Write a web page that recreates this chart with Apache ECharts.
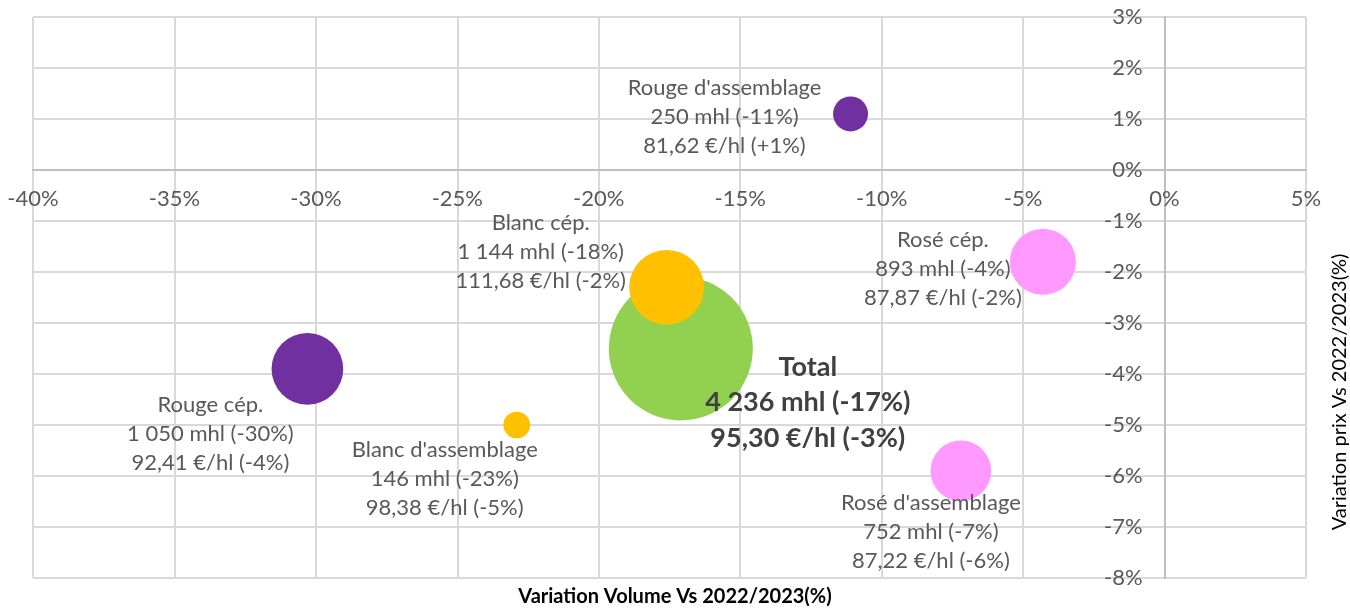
<!DOCTYPE html>
<html>
<head>
    <meta charset="utf-8">
    <title>Variation volume / prix</title>
    <script type="text/javascript" src="https://cdn.jsdelivr.net/npm/echarts@6/dist/echarts.min.js"></script>
    <style>
    html, body { margin: 0; padding: 0; background: #fff; }
    </style>
</head>
<body>
    <div id="main" style="width:1350px;height:608px"></div>
    <script>
    // données
    var names = ['Total', "Rouge d'assemblage", 'Rosé cép.', 'Blanc cép.', 'Rouge cép.', "Blanc d'assemblage", "Rosé d'assemblage"];
    var volVar = [-17.1, -11.1, -4.3, -17.6, -30.3, -22.9, -7.2];   // variation volume (%)
    var prixVar = [-3.5, 1.1, -1.8, -2.3, -3.9, -5.0, -5.9];       // variation prix (%)
    var volumes = [4236, 250, 893, 1144, 1050, 146, 752];          // mhl
    var volLabels = ['4 236 mhl (-17%)', '250 mhl (-11%)', '893 mhl (-4%)', '1 144 mhl (-18%)', '1 050 mhl (-30%)', '146 mhl (-23%)', '752 mhl (-7%)'];
    var prixLabels = ['95,30 €/hl (-3%)', '81,62 €/hl (+1%)', '87,87 €/hl (-2%)', '111,68 €/hl (-2%)', '92,41 €/hl (-4%)', '98,38 €/hl (-5%)', '87,22 €/hl (-6%)'];
    var colors = ['#92D050', '#7030A0', '#FF99FF', '#FFC000', '#7030A0', '#FFC000', '#FF99FF'];
    // décalage des étiquettes par rapport aux bulles
    var labelOffsets = [[127, 54], [-126, 3], [-100, 7], [-126, -35], [-97, 65], [-72, 54], [-30, 61]];

    var font = 'Lato, "Open Sans", sans-serif';
    var maxVol = Math.max.apply(null, volumes);

    var points = names.map(function (n, i) {
        var isTotal = i === 0;
        return {
            name: n,
            value: [volVar[i], prixVar[i], volumes[i]],
            itemStyle: { color: colors[i], opacity: 1 },
            label: {
                show: true,
                position: 'inside',
                offset: labelOffsets[i],
                align: 'center',
                verticalAlign: 'middle',
                fontFamily: font,
                fontSize: isTotal ? 27 : 22,
                fontWeight: isTotal ? 'bold' : 'normal',
                lineHeight: isTotal ? 35.5 : 29,
                color: isTotal ? '#404040' : '#595959',
                formatter: function () {
                    return [n, volLabels[i], prixLabels[i]].join('\n');
                }
            }
        };
    });

    var option = {
        animation: false,
        backgroundColor: '#fff',
        grid: { left: 33, right: 44, top: 17, bottom: 30, containLabel: false, outerBoundsMode: 'none' },
        xAxis: {
            type: 'value',
            min: -40,
            max: 5,
            interval: 5,
            axisLine: { onZero: false, lineStyle: { color: '#bfbfbf', width: 2 } },
            axisTick: { show: false },
            axisLabel: {
                margin: 18,
                fontFamily: font,
                fontSize: 22,
                color: '#595959',
                formatter: function (v) { return v + '%'; }
            },
            splitLine: { show: true, lineStyle: { color: '#d9d9d9', width: 2 } }
        },
        yAxis: {
            type: 'value',
            min: -8,
            max: 3,
            interval: 1,
            axisLine: { onZero: false, lineStyle: { color: '#bfbfbf', width: 2 } },
            axisTick: { show: false },
            axisLabel: {
                margin: 22,
                fontFamily: font,
                fontSize: 22,
                color: '#595959',
                formatter: function (v) { return v + '%'; }
            },
            splitLine: { show: true, lineStyle: { color: '#d9d9d9', width: 2 } }
        },
        // titres des axes
        graphic: [{
            type: 'text',
            left: 'center',
            top: 587,
            style: {
                text: 'Variation Volume Vs 2022/2023(%)',
                fontFamily: font,
                fontSize: 20,
                fontWeight: 'bold',
                fill: '#000'
            }
        }, {
            type: 'text',
            x: 1340,
            y: 392,
            rotation: Math.PI / 2,
            style: {
                text: 'Variation prix Vs 2022/2023(%)',
                fontFamily: font,
                fontSize: 20,
                fill: '#000',
                align: 'center',
                verticalAlign: 'middle'
            }
        }],
        series: [{
            type: 'scatter',
            symbol: 'circle',
            symbolSize: function (val) {
                return 144 * Math.sqrt(val[2] / maxVol);
            },
            data: points
        }]
    };

    var myChart = echarts.init(document.getElementById('main'));
    myChart.setOption(option);

    // axes croisés en zéro : décalage calculé à partir des échelles
    var corner = myChart.convertToPixel({ gridIndex: 0 }, [option.xAxis.min, option.yAxis.min]);
    var zero = myChart.convertToPixel({ gridIndex: 0 }, [0, 0]);
    myChart.setOption({
        xAxis: { offset: -(corner[1] - zero[1]) },
        yAxis: { offset: -(zero[0] - corner[0]) }
    });
    </script>
</body>
</html>
